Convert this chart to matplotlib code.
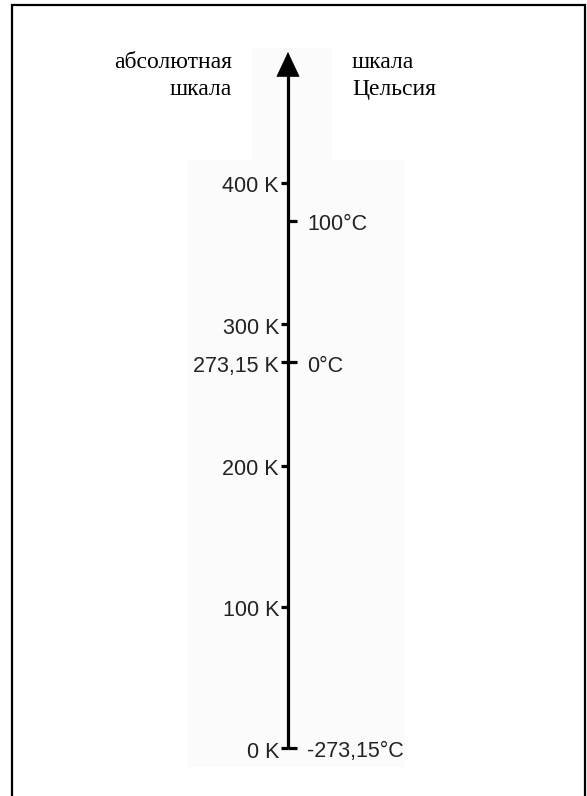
import matplotlib.pyplot as plt
import matplotlib.transforms as mtransforms
from matplotlib.patches import Rectangle

# шкала Кельвина (слева) и шкала Цельсия (справа)
kelvin_ticks = [0, 100, 200, 273.15, 300, 400]
kelvin_labels = ['0 K', '100 K', '200 K', '273,15 K', '300 K', '400 K']
celsius_ticks = [-273.15, 0, 100]
celsius_labels = ['-273,15°C', '0°C', '100°C']
left_title = ['абсолютная', 'шкала']
right_title = ['шкала', 'Цельсия']

W, H = 587, 796
fig = plt.figure(figsize=(W / 100, H / 100), dpi=100)
ax = fig.add_axes([0, 0, 1, 1])
ax.axis('off')

# пиксели -> кельвины: 0 K на y=748, 400 K на y=183 (от верха)
k_per_px = 400 / (748 - 183)
ax.set_xlim(0, W)
ax.set_ylim(-(H - 748) * k_per_px, 748 * k_per_px)


def py(y):
    # координата y в пикселях от верха -> в кельвины
    return (748 - y) * k_per_px


# бледный фон под шкалой
ax.add_patch(Rectangle((187, py(767)), 218, py(160) - py(767),
                       facecolor='#fbfbfb', edgecolor='none', zorder=0))
ax.add_patch(Rectangle((252, py(160)), 80, py(48) - py(160),
                       facecolor='#fbfbfb', edgecolor='none', zorder=0))

x0 = 288
ax.plot([x0, x0], [kelvin_ticks[0], py(70)], color='black', lw=2.3,
        solid_capstyle='butt', zorder=3)
ax.annotate('', xy=(x0, py(52)), xytext=(x0, py(72)),
            arrowprops=dict(arrowstyle='-|>,head_length=0.85,head_width=0.4',
                            mutation_scale=20, color='black', lw=0.5,
                            shrinkA=0, shrinkB=0), zorder=4)

off = mtransforms.offset_copy(ax.transData, fig=fig, x=0, y=-4, units='dots')
tick_font = dict(family=['Liberation Sans', 'DejaVu Sans'], fontsize=15.5,
                 color='#222222')

for k, lab in zip(kelvin_ticks, kelvin_labels):
    ax.plot([x0 - 7, x0], [k, k], color='black', lw=2.3, solid_capstyle='butt')
    ax.text(x0 - 9, k, lab, transform=off, ha='right', va='center', **tick_font)

for c, lab in zip(celsius_ticks, celsius_labels):
    k = c + 273.15
    ax.plot([x0, x0 + 9], [k, k], color='black', lw=2.3, solid_capstyle='butt')
    ax.text(x0 + 19, k, lab, transform=off, ha='left', va='center', **tick_font)

head_font = dict(family=['Liberation Serif', 'DejaVu Serif'], fontsize=17,
                 color='black')
for i, (l, r) in enumerate(zip(left_title, right_title)):
    yb = py(68 + 27 * i)
    ax.text(232, yb, l, ha='right', va='baseline', **head_font)
    ax.text(352, yb, r, ha='left', va='baseline', **head_font)

# рамка
fig.patches.append(Rectangle((12 / W, -0.05), (585 - 12) / W, 1.05 - 5 / H,
                             transform=fig.transFigure, fill=False,
                             edgecolor='black', lw=1.6))

fig.savefig('out.png', dpi=100)
